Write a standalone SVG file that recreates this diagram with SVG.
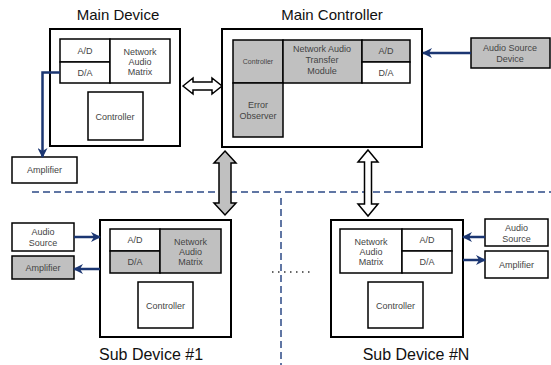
<svg xmlns="http://www.w3.org/2000/svg" width="551" height="365" viewBox="0 0 551 365">
  <style>
    .outer { fill: #ffffff; stroke: #000; stroke-width: 2; }
    .box { fill: #ffffff; stroke: #000; stroke-width: 1.5; }
    .gbox { fill: #c0c0c0; stroke: #000; stroke-width: 1.5; }
    .lbl { font-family: "Liberation Sans", Arial, sans-serif; font-size: 9px; fill: #444; text-anchor: middle; }
    .tiny { font-size: 7px; }
    .title { font-family: "Liberation Sans", Arial, sans-serif; fill: #111; text-anchor: middle; }
    .link { fill: none; stroke: #1b3672; stroke-width: 2.5; }
    .dash { fill: none; stroke: #2c4a86; stroke-width: 1.5; stroke-dasharray: 7 4; }
    .dots { fill: none; stroke: #333; stroke-width: 1.5; stroke-dasharray: 1.5 4.5; }
    .bus { stroke: #000; stroke-width: 1.5; }
  </style>
  <defs>
    <marker id="head" viewBox="0 0 10 10" refX="9" refY="5" markerWidth="4" markerHeight="4" orient="auto" markerUnits="strokeWidth">
      <path d="M0,0 L10,5 L0,10 L3,5 Z" fill="#1b3672"/>
    </marker>
  </defs>

  <!-- region separators -->
  <g id="separators">
    <line class="dash" x1="32" y1="192" x2="551" y2="192"/>
    <line class="dash" x1="281" y1="198" x2="281" y2="365"/>
    <line class="dots" x1="272" y1="272" x2="312" y2="272"/>
  </g>

  <!-- Main Device -->
  <g id="main-device">
    <text class="title" x="118" y="20" font-size="15">Main Device</text>
    <rect class="outer" x="50" y="29" width="130" height="117"/>
    <rect class="box" x="60" y="39" width="50" height="23"/>
    <rect class="box" x="60" y="62" width="50" height="21"/>
    <rect class="box" x="110" y="39" width="60" height="44"/>
    <rect class="box" x="88" y="92" width="55" height="48"/>
    <text class="lbl" x="85" y="54">A/D</text>
    <text class="lbl" x="85" y="76">D/A</text>
    <text class="lbl" x="140" y="55">Network</text>
    <text class="lbl" x="140" y="65">Audio</text>
    <text class="lbl" x="140" y="75">Matrix</text>
    <text class="lbl" x="115" y="120">Controller</text>
  </g>

  <g id="main-amplifier">
    <rect class="box" x="12" y="157" width="65" height="26"/>
    <text class="lbl" x="44.5" y="173">Amplifier</text>
  </g>

  <!-- Main Controller -->
  <g id="main-controller">
    <text class="title" x="332" y="20" font-size="15">Main Controller</text>
    <rect class="outer" x="222" y="29" width="200" height="118"/>
    <rect class="gbox" x="233" y="40" width="50" height="43"/>
    <rect class="gbox" x="283" y="40" width="79" height="43"/>
    <rect class="gbox" x="362" y="40" width="48" height="22"/>
    <rect class="box" x="362" y="62" width="48" height="21"/>
    <rect class="gbox" x="233" y="83" width="50" height="54"/>
    <text class="lbl tiny" x="258" y="64">Controller</text>
    <text class="lbl" x="322" y="52">Network Audio</text>
    <text class="lbl" x="322" y="63">Transfer</text>
    <text class="lbl" x="322" y="74">Module</text>
    <text class="lbl" x="386" y="54">A/D</text>
    <text class="lbl" x="386" y="76">D/A</text>
    <text class="lbl" x="258" y="108">Error</text>
    <text class="lbl" x="258" y="119">Observer</text>
  </g>

  <g id="audio-source-device">
    <rect class="gbox" x="471" y="38" width="79" height="30"/>
    <text class="lbl" x="510" y="51">Audio Source</text>
    <text class="lbl" x="510" y="62">Device</text>
  </g>

  <!-- Sub Device #1 -->
  <g id="sub-device-1">
    <rect class="outer" x="100" y="220" width="131" height="117"/>
    <rect class="box" x="110" y="229" width="50" height="22"/>
    <rect class="gbox" x="110" y="251" width="50" height="22"/>
    <rect class="gbox" x="160" y="229" width="61" height="44"/>
    <rect class="box" x="138" y="282" width="55" height="46"/>
    <text class="lbl" x="135" y="243">A/D</text>
    <text class="lbl" x="135" y="265">D/A</text>
    <text class="lbl" x="190.5" y="245">Network</text>
    <text class="lbl" x="190.5" y="255">Audio</text>
    <text class="lbl" x="190.5" y="265">Matrix</text>
    <text class="lbl" x="165.5" y="309">Controller</text>
    <text class="title" x="151" y="360" font-size="16">Sub Device #1</text>
  </g>

  <g id="sub1-audio-source">
    <rect class="box" x="12" y="223" width="62" height="28"/>
    <text class="lbl" x="43" y="235">Audio</text>
    <text class="lbl" x="43" y="246">Source</text>
  </g>

  <g id="sub1-amplifier">
    <rect class="gbox" x="12" y="256" width="62" height="23"/>
    <text class="lbl" x="43" y="271">Amplifier</text>
  </g>

  <!-- Sub Device #N -->
  <g id="sub-device-n">
    <rect class="outer" x="331" y="220" width="132" height="117"/>
    <rect class="box" x="340" y="229" width="62" height="44"/>
    <rect class="box" x="402" y="229" width="50" height="22"/>
    <rect class="box" x="402" y="251" width="50" height="22"/>
    <rect class="box" x="368" y="282" width="55" height="46"/>
    <text class="lbl" x="371" y="245">Network</text>
    <text class="lbl" x="371" y="255">Audio</text>
    <text class="lbl" x="371" y="265">Matrix</text>
    <text class="lbl" x="427" y="243">A/D</text>
    <text class="lbl" x="427" y="265">D/A</text>
    <text class="lbl" x="395.5" y="309">Controller</text>
    <text class="title" x="416" y="360" font-size="16">Sub Device #N</text>
  </g>

  <g id="subn-audio-source">
    <rect class="box" x="485" y="219" width="63" height="27"/>
    <text class="lbl" x="516.5" y="231">Audio</text>
    <text class="lbl" x="516.5" y="242">Source</text>
  </g>

  <g id="subn-amplifier">
    <rect class="box" x="485" y="251" width="63" height="27"/>
    <text class="lbl" x="516.5" y="268">Amplifier</text>
  </g>

  <!-- connectors -->
  <g id="connectors">
    <!-- signal lines -->
    <polyline class="link" points="60,72.5 42.5,72.5 42.5,157" marker-end="url(#head)"/>
    <line class="link" x1="471" y1="53" x2="423" y2="53" marker-end="url(#head)"/>
    <line class="link" x1="74" y1="237" x2="100" y2="237" marker-end="url(#head)"/>
    <line class="link" x1="100" y1="269" x2="74" y2="269" marker-end="url(#head)"/>
    <line class="link" x1="485" y1="237" x2="463" y2="237" marker-end="url(#head)"/>
    <line class="link" x1="463" y1="260" x2="485" y2="260" marker-end="url(#head)"/>
    <!-- bus links -->
    <path class="bus" fill="#ffffff" d="M183,86 L193,78 L193,82 L212,82 L212,78 L222,86 L212,94 L212,90 L193,90 L193,94 Z"/>
    <path class="bus" fill="#c0c0c0" d="M225,151 L236,163 L231,163 L231,203 L236,203 L225,215 L214,203 L219,203 L219,163 L214,163 Z"/>
    <path class="bus" fill="#ffffff" d="M368,150 L378,162 L371.5,162 L371.5,204 L378,204 L368,216 L358,204 L364.5,204 L364.5,162 L358,162 Z"/>
  </g>
</svg>
